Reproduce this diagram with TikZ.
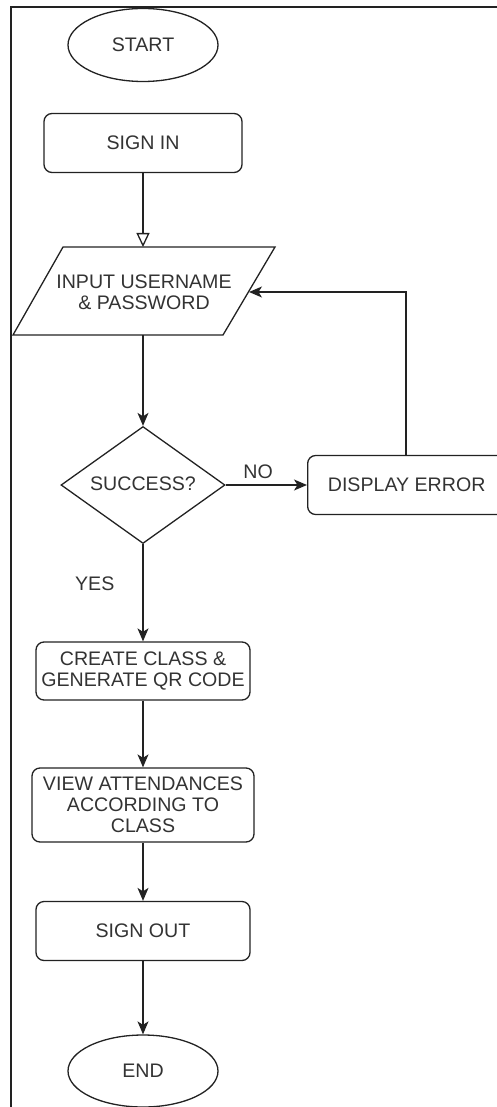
\documentclass[tikz,border=0pt]{standalone}
\usepackage{fontspec}
\setmainfont{Liberation Sans}
\usetikzlibrary{shapes.geometric,arrows.meta}
\definecolor{txt}{HTML}{333333}
\definecolor{ln}{HTML}{222222}
\begin{document}
\begin{tikzpicture}[x=1pt,y=-1pt,
  every node/.style={font=\fontsize{19.6}{21}\selectfont, text=txt},
  proc/.style={draw=ln, line width=1.3pt, rounded corners=8pt, align=center, inner sep=0pt},
  term/.style={draw=ln, line width=1.3pt, ellipse, minimum width=150pt, minimum height=73pt, inner sep=0pt},
  flow/.style={draw=ln, line width=1.3pt, -{Stealth[length=13pt,width=11pt,inset=3.5pt]}},
  lbl/.style={inner sep=0pt}
]
\useasboundingbox (0,0) rectangle (497,1107);
% frame
\draw[line width=2.2pt, ln] (497,7) -- (11,7) -- (11,1107);

\node[term] (start) at (143,45) {START};
\node[proc, minimum width=198pt, minimum height=59pt] (signin) at (143,143) {SIGN IN};

% parallelogram
\coordinate (p1) at (63,247);
\coordinate (p2) at (275,247);
\coordinate (p3) at (223,335);
\coordinate (p4) at (13,335);
\draw[ln, line width=1.3pt] (p1) -- (p2) -- (p3) -- (p4) -- cycle;
\node[align=center, inner sep=0pt] (input) at (144,292) {INPUT USERNAME\\\& PASSWORD};
\coordinate (inTop) at (143,247);
\coordinate (inBot) at (143,335);
\coordinate (inRight) at (249,292);

% diamond
\node[draw=ln, line width=1.3pt, diamond, minimum width=164pt, minimum height=117pt, inner sep=0pt, aspect=1.4] (succ) at (143,485) {};
\node[inner sep=0pt] (succtxt) at (143,484) {SUCCESS?};

\node[proc, minimum width=198pt, minimum height=59pt, anchor=west] (err) at (307,485) {DISPLAY ERROR};

\node[proc, minimum width=214pt, minimum height=58pt] (create) at (143,671) {CREATE CLASS \&\\GENERATE QR CODE};
\node[proc, minimum width=222pt, minimum height=74pt] (view) at (143,805) {VIEW ATTENDANCES\\ACCORDING TO\\CLASS};
\node[proc, minimum width=214pt, minimum height=59pt] (signout) at (143,931) {SIGN OUT};
\node[term, minimum height=72pt] (end) at (143,1071) {END};

% connectors
\draw[ln, line width=1.3pt, -{Triangle[open, length=14pt, width=13pt]}] (signin.south) -- (inTop);
\draw[flow] (inBot) -- (succ.north);
\draw[flow] (succ.east) -- node[lbl, above=6pt, pos=0.4] (no) {NO} (err.west);
\coordinate (errTop) at (406,455);
\draw[flow] (errTop) |- (inRight);
\draw[flow] (succ.south) -- node[lbl, left=28pt, pos=0.41] (yes) {YES} (create.north);
\draw[flow] (create.south) -- (view.north);
\draw[flow] (view.south) -- (signout.north);
\draw[flow] (signout.south) -- (end.north);
\end{tikzpicture}
\end{document}
